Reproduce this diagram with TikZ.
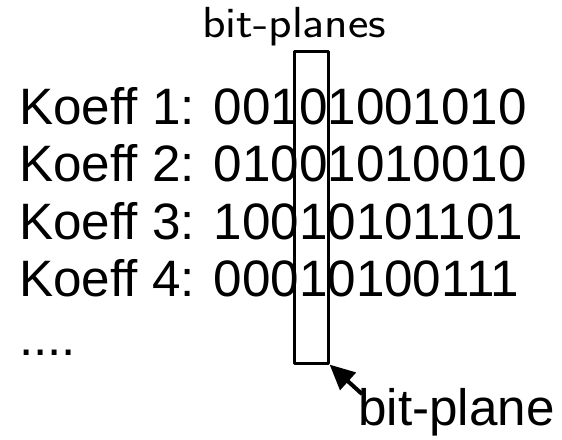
\documentclass[tikz,border=0pt]{standalone}
\usepackage{fontspec}
\setmainfont{Liberation Sans}
\usetikzlibrary{arrows.meta}
\begin{document}
\begin{tikzpicture}[x=1pt,y=-1pt,
  row/.style={anchor=base west, inner sep=0pt, font=\fontsize{51.2}{52}\selectfont},
  heading/.style={anchor=base west, inner sep=0pt, font=\sffamily\fontsize{43.5}{44}\selectfont},
  planebox/.style={draw, line width=2.6pt, line join=round, inner sep=0pt, anchor=north west},
  pointer/.style={-{Triangle[length=25pt,width=23pt]}, line width=4pt}]
  \useasboundingbox (0,0) rectangle (562,439);
  % heading above the coefficient list
  \node[heading] (title) at (202,37.5) {\scalebox{1.12}[1]{bit-planes}};
  % coefficient rows
  \node[row] (k1) at (19,124) {Koeff 1: 00101001010};
  \node[row] (k2) at (19,181.5) {Koeff 2: 01001010010};
  \node[row] (k3) at (19,239) {Koeff 3: 10010101101};
  \node[row] (k4) at (19,296.5) {Koeff 4: 00010100111};
  \node[row] (dots) at (19,355) {....};
  % one bit-plane column
  \node[planebox, minimum width=34pt, minimum height=312pt] (plane) at (293,50) {};
  % label with arrow to the column
  \node[row] (lbl) at (358,425) {bit-plane};
  \coordinate (tail) at (362,394);
  \draw[pointer] (tail) -- (plane.south east);
\end{tikzpicture}
\end{document}
